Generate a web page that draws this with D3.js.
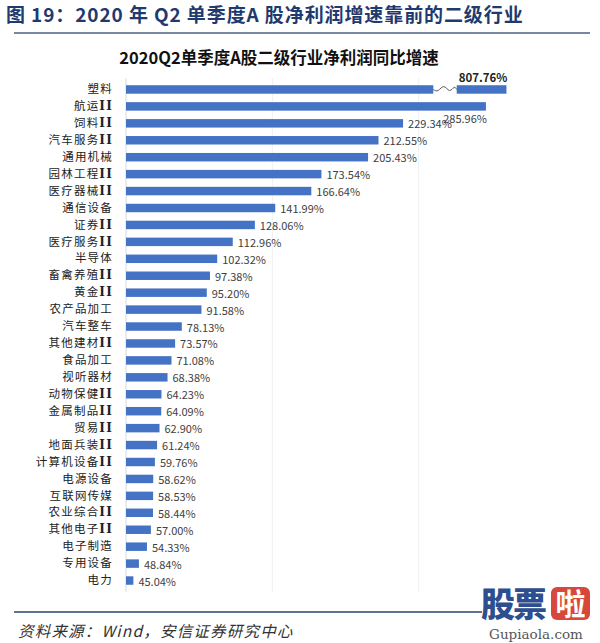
<!DOCTYPE html>
<html><head><meta charset="utf-8">
<script src="https://cdn.jsdelivr.net/npm/d3@7/dist/d3.min.js"></script>
<style>
html,body{margin:0;padding:0;background:#fff;}
svg{display:block;}
</style></head>
<body>
<svg id="c" width="600" height="643"></svg>
<script>
const categories = ["塑料","航运Ⅱ","饲料Ⅱ","汽车服务Ⅱ","通用机械","园林工程Ⅱ","医疗器械Ⅱ","通信设备","证券Ⅱ","医疗服务Ⅱ","半导体","畜禽养殖Ⅱ","黄金Ⅱ","农产品加工","汽车整车","其他建材Ⅱ","食品加工","视听器材","动物保健Ⅱ","金属制品Ⅱ","贸易Ⅱ","地面兵装Ⅱ","计算机设备Ⅱ","电源设备","互联网传媒","农业综合Ⅱ","其他电子Ⅱ","电子制造","专用设备","电力"];
const values = [807.76,285.96,229.34,212.55,205.43,173.54,166.64,141.99,128.06,112.96,102.32,97.38,95.20,91.58,78.13,73.57,71.08,68.38,64.23,64.09,62.90,61.24,59.76,58.62,58.53,58.44,57.00,54.33,48.84,45.04];
const axisDomain = [40, 340];
const gridTicks = [140, 240];
const barCap = 300;          // broken bar drawn up to this value
const breakRange = [250, 266];

const svg = d3.select("#c");
const FONT = "'Noto Sans CJK SC','Noto Sans',sans-serif";

// Header
svg.append("text").attr("x", 6).attr("y", 22)
  .attr("font-family", FONT).attr("font-size", 19).attr("font-weight", 700)
  .attr("fill", "#1f3a6e").attr("letter-spacing", 0.9)
  .text("图 19：2020 年 Q2 单季度A 股净利润增速靠前的二级行业");
svg.append("line").attr("x1", 14).attr("x2", 590).attr("y1", 33).attr("y2", 33)
  .attr("stroke", "#4b5f86").attr("stroke-width", 1.5);

svg.append("text").attr("x", 279).attr("y", 64).attr("text-anchor", "middle")
  .attr("font-family", FONT).attr("font-size", 16.5).attr("font-weight", 700)
  .attr("fill", "#111").text("2020Q2单季度A股二级行业净利润同比增速");

const x = d3.scaleLinear().domain(axisDomain).range([126, 565]);
const y = d3.scaleBand().domain(categories).range([81, 589]).paddingInner(0.5).paddingOuter(0.25);
const bw = y.bandwidth();

// faint gridlines
svg.append("g").selectAll("line").data(gridTicks).join("line")
  .attr("x1", d => x(d)).attr("x2", d => x(d)).attr("y1", 78).attr("y2", 592)
  .attr("stroke", "#f0f0f0").attr("stroke-width", 1);

// axis line
const yAxis = d3.axisLeft(y).tickSize(0).tickPadding(13);
const ga = svg.append("g").attr("transform", `translate(${x(axisDomain[0])},0)`).call(yAxis);
ga.select(".domain").attr("stroke", "#d9d9d9").attr("d", `M0,78V592`);
ga.selectAll("text").attr("font-family", FONT).attr("font-size", 11.5)
  .attr("fill", "#222").attr("letter-spacing", 1.2)
  .each(function(d) {
    const t = d3.select(this);
    const m = d.match(/^(.*?)(Ⅱ?)$/);
    t.text(null);
    t.append("tspan").text(m[1]);
    if (m[2]) t.append("tspan").attr("font-weight", 900).attr("font-family", "'DejaVu Serif',serif").attr("font-size", 12).text("II");
  });

const data = categories.map((c, i) => ({c, v: values[i]}));
const color = "#4472C4";

// bars
const normal = data.filter(d => d.v <= barCap);
svg.append("g").selectAll("rect").data(normal).join("rect")
  .attr("x", x(axisDomain[0])).attr("y", d => y(d.c))
  .attr("width", d => x(d.v) - x(axisDomain[0])).attr("height", bw)
  .attr("fill", color);

// broken bar(s)
const broken = data.filter(d => d.v > barCap);
broken.forEach(d => {
  svg.append("rect").attr("x", x(axisDomain[0])).attr("y", y(d.c))
    .attr("width", x(breakRange[0]) - x(axisDomain[0])).attr("height", bw).attr("fill", color);
  svg.append("rect").attr("x", x(breakRange[1])).attr("y", y(d.c))
    .attr("width", x(barCap) - x(breakRange[1])).attr("height", bw).attr("fill", color);
  const x0 = x(breakRange[0]), x1 = x(breakRange[1]), yc = y(d.c) + bw / 2;
  const w = x1 - x0;
  const pts = [[0, 0], [0.2, 3], [0.45, -6], [0.7, 4], [0.9, -4], [1, 0]].map(p => [x0 + p[0] * w, yc + p[1]]);
  svg.append("path").attr("d", d3.line().curve(d3.curveBasis)(pts))
    .attr("fill", "none").attr("stroke", "#555").attr("stroke-width", 1);
  svg.append("text").attr("x", x(barCap) + 1).attr("y", y(d.c) - 3)
    .attr("text-anchor", "end").attr("font-family", FONT).attr("font-size", 11.5)
    .attr("font-weight", 700).attr("fill", "#222").text(d.v.toFixed(2) + "%");
});

// value labels
svg.append("g").selectAll("text").data(normal).join("text")
  .attr("x", (d, i) => i === 0 ? x(d.v) + 1 : x(d.v) + 5)
  .attr("y", (d, i) => y(d.c) + bw / 2 + (i === 0 ? 12 : 0))
  .attr("text-anchor", (d, i) => i === 0 ? "end" : "start")
  .attr("dominant-baseline", "central")
  .attr("font-family", FONT).attr("font-size", 11).attr("fill", "#404040")
  .text(d => d.v.toFixed(2) + "%");

// footer
svg.append("line").attr("x1", 14).attr("x2", 482).attr("y1", 612).attr("y2", 612)
  .attr("stroke", "#2c4270").attr("stroke-width", 1.5);
svg.append("text").attr("x", 18).attr("y", 637)
  .attr("font-family", FONT).attr("font-size", 15.5).attr("font-style", "italic")
  .attr("fill", "#333").attr("letter-spacing", 1.2).text("资料来源：Wind，安信证券研究中心");

// watermark logo
svg.append("text").attr("x", 481).attr("y", 617)
  .attr("font-family", FONT).attr("font-size", 34).attr("font-weight", 900)
  .attr("fill", "#2e4f8f").attr("letter-spacing", -2).text("股票");
svg.append("rect").attr("x", 551).attr("y", 587).attr("width", 39).attr("height", 33).attr("rx", 6)
  .attr("fill", "#d8473b");
svg.append("text").attr("x", 570.5).attr("y", 615).attr("text-anchor", "middle")
  .attr("font-family", FONT).attr("font-size", 30).attr("font-weight", 700)
  .attr("fill", "#fff").text("啦");
svg.append("text").attr("x", 536).attr("y", 639).attr("text-anchor", "middle")
  .attr("font-family", "'DejaVu Serif','Liberation Serif',serif").attr("font-size", 13.5)
  .attr("fill", "#555").text("Gupiaola.com");
</script>
</body></html>
